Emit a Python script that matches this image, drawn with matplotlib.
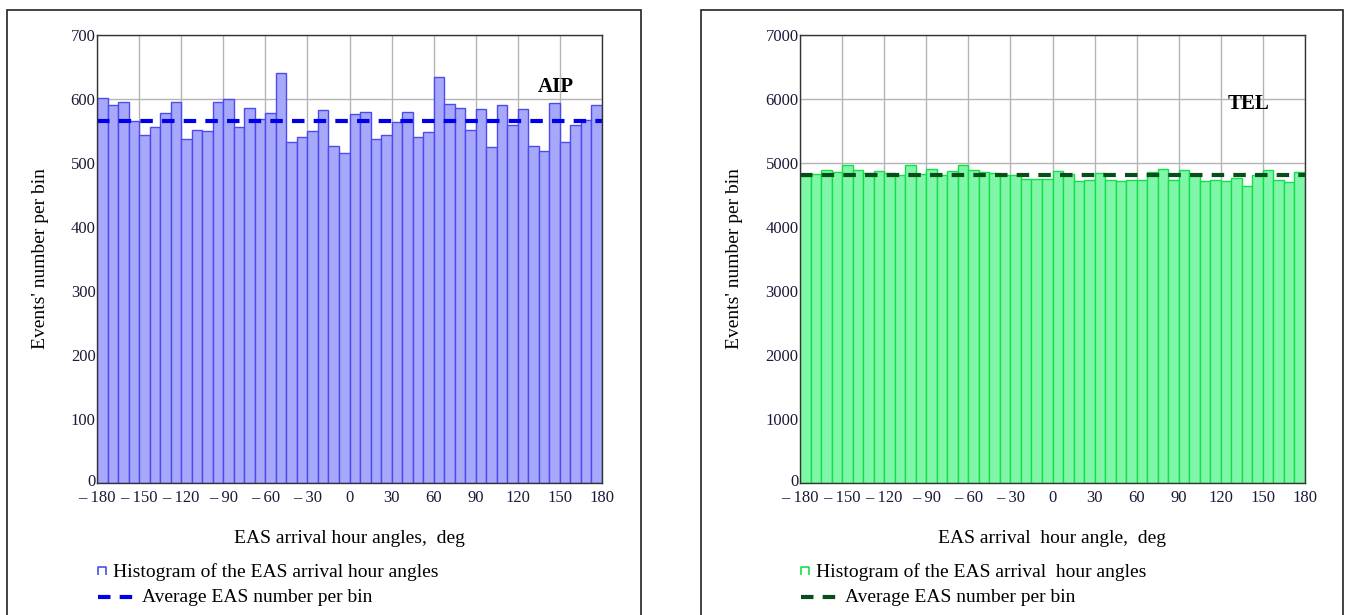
import numpy as np
import matplotlib
matplotlib.use("Agg")
import matplotlib.pyplot as plt
from matplotlib.patches import Rectangle
from matplotlib.lines import Line2D
from matplotlib.path import Path
from matplotlib.transforms import ScaledTranslation

plt.rcParams['font.family'] = ['Liberation Serif', 'DejaVu Serif']

# 7.5 degree bins from -180 to 180
bin_edges = np.arange(-180, 180.1, 7.5)

aip_counts = [602, 590, 596, 566, 544, 556, 578, 596, 538, 552, 550, 596,
              600, 556, 586, 568, 578, 641, 533, 540, 550, 583, 527, 515,
              576, 580, 538, 544, 564, 580, 541, 548, 634, 592, 586, 552,
              584, 525, 590, 560, 584, 527, 519, 594, 533, 560, 567, 590]
aip_avg = 566

tel_counts = [4802, 4833, 4885, 4854, 4969, 4885, 4843, 4870, 4843, 4817, 4969, 4833,
              4906, 4817, 4870, 4969, 4885, 4859, 4843, 4817, 4807, 4750, 4750, 4750,
              4870, 4833, 4713, 4739, 4843, 4729, 4713, 4729, 4739, 4854, 4906, 4739,
              4885, 4833, 4713, 4729, 4713, 4765, 4635, 4817, 4885, 4739, 4697, 4854]
tel_avg = 4810

xticks = np.arange(-180, 181, 30)
xtick_labels = [("\u2013 %d" % -t) if t < 0 else str(t) for t in xticks]

W, H = 1346, 615
fig = plt.figure(figsize=(W / 100, H / 100), dpi=100)

# panel frames
for x0, x1 in [(7, 641), (701, 1343)]:
    fig.patches.append(Rectangle((x0 / W, -0.05), (x1 - x0) / W, 1 - 10 / H + 0.05,
                                 transform=fig.transFigure, fill=False,
                                 edgecolor='#222222', linewidth=1.2))

panels = [
    dict(left=97, counts=aip_counts, avg=aip_avg, ymax=700, ystep=100,
         face='#a8a8fb', edge='#4b4bf0', avgcol='#0000e6', tag='AIP', tagpos=(0.945, 0.885),
         xlabel='EAS arrival hour angles,  deg',
         leg1='Histogram of the EAS arrival hour angles'),
    dict(left=800, counts=tel_counts, avg=tel_avg, ymax=7000, ystep=1000,
         face='#80f7a8', edge='#12e04a', avgcol='#0a4d1c', tag='TEL', tagpos=(0.93, 0.845),
         xlabel='EAS arrival  hour angle,  deg',
         leg1='Histogram of the EAS arrival  hour angles'),
]

bar_marker = Path([(-1, -1), (-1, 1), (1, 1), (1, -1)],
                  [Path.MOVETO, Path.LINETO, Path.LINETO, Path.LINETO])

for p in panels:
    ax = fig.add_axes([p['left'] / W, 1 - 483 / H, 505 / W, (483 - 35) / H])
    ax.set_axisbelow(True)
    ax.grid(True, color='#b4b4b4', linewidth=1)
    ax.bar(bin_edges[:-1], p['counts'], width=7.5, align='edge',
           color=p['face'], edgecolor=p['edge'], linewidth=1)
    ax.axhline(p['avg'], color=p['avgcol'], linewidth=3, dashes=(3, 2.2))
    ax.set_xlim(-180, 180)
    ax.set_ylim(0, p['ymax'])
    ax.set_xticks(xticks)
    ax.set_xticklabels(xtick_labels)
    ax.set_yticks(np.arange(0, p['ymax'] + 1, p['ystep']))
    ax.tick_params(length=0, labelsize=12, labelcolor='#1a1a3a')
    ax.tick_params(axis='x', pad=5)
    ax.tick_params(axis='y', pad=1)
    # the zero label sits a little above the axis corner
    zero = ax.get_yticklabels()[0]
    zero.set_transform(zero.get_transform() + ScaledTranslation(0, 3 / 100, fig.dpi_scale_trans))
    for s in ax.spines.values():
        s.set_color('#333333')
        s.set_linewidth(1)
    ax.set_xlabel(p['xlabel'], fontsize=14, labelpad=17)
    ax.set_ylabel("Events' number per bin", fontsize=14, labelpad=16)
    ax.text(p['tagpos'][0], p['tagpos'][1], p['tag'], transform=ax.transAxes,
            ha='right', va='center', fontsize=15, fontweight='bold')

    # legend below the axis label
    lx = (p['left'] + 5) / W
    fig.add_artist(Line2D([lx], [1 - 571 / H], marker=bar_marker, markersize=6,
                          markerfacecolor='none', markeredgecolor=p['edge'],
                          markeredgewidth=1.2, transform=fig.transFigure))
    fig.text(lx + 11 / W, 1 - 572 / H, p['leg1'], fontsize=14, va='center')
    fig.add_artist(Line2D([lx - 4 / W, lx + 34 / W], [1 - 597 / H] * 2,
                          color=p['avgcol'], linewidth=3, dashes=(3, 2.2),
                          transform=fig.transFigure))
    fig.text(lx + 40 / W, 1 - 598 / H, 'Average EAS number per bin', fontsize=14, va='center')

fig.savefig('out.png', dpi=100)
